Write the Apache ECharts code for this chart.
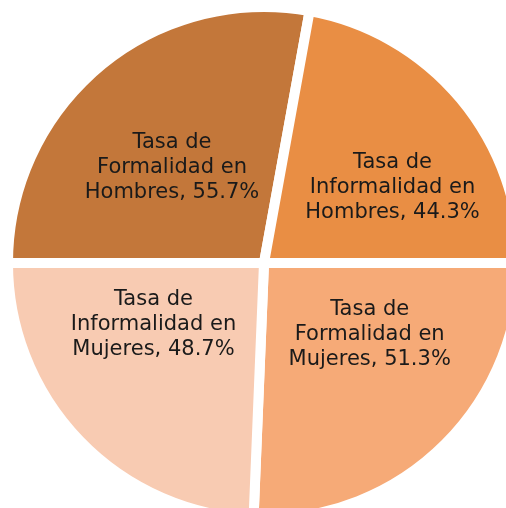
<!DOCTYPE html>
<html>
<head>
<meta charset="utf-8">
<script src="https://cdn.jsdelivr.net/npm/echarts@6/dist/echarts.min.js"></script>
<style>
  html, body { margin: 0; padding: 0; background: #fff; }
  #chart { width: 506px; height: 508px; }
</style>
</head>
<body>
<div id="chart"></div>
<script>
"use strict"

// each half of the pie is 100% (hombres on top, mujeres below)
const categories = [
  "Tasa de\nFormalidad en\nHombres",
  "Tasa de\nInformalidad en\nHombres",
  "Tasa de\nFormalidad en\nMujeres",
  "Tasa de\nInformalidad en\nMujeres"
];
const values = [55.7, 44.3, 51.3, 48.7];
const colors = ["#C3773A", "#E98E44", "#F6AA77", "#F8CBB2"];
// nudges so labels sit where the original placed them
const labelOffsets = [[-8, 5], [28, 9], [15, -23], [-16, -29]];

const chart = echarts.init(document.getElementById("chart"));

const data = categories.map((name, i) => ({
  name: name,
  value: values[i],
  itemStyle: { color: colors[i] },
  label: { offset: labelOffsets[i] }
}));

chart.setOption({
  animation: false,
  series: [{
    type: "pie",
    center: [264, 263],
    radius: [0, 256],
    startAngle: 180,
    clockwise: true,
    data: data,
    itemStyle: { borderColor: "#fff", borderWidth: 10 },
    label: {
      position: "inside",
      formatter: (p) => p.name + ", " + p.value.toFixed(1) + "%",
      fontFamily: "DejaVu Sans",
      fontSize: 21,
      lineHeight: 25,
      color: "#1a1a1a",
      align: "center"
    },
    labelLine: { show: false },
    emphasis: { disabled: true }
  }]
});
</script>
</body>
</html>
